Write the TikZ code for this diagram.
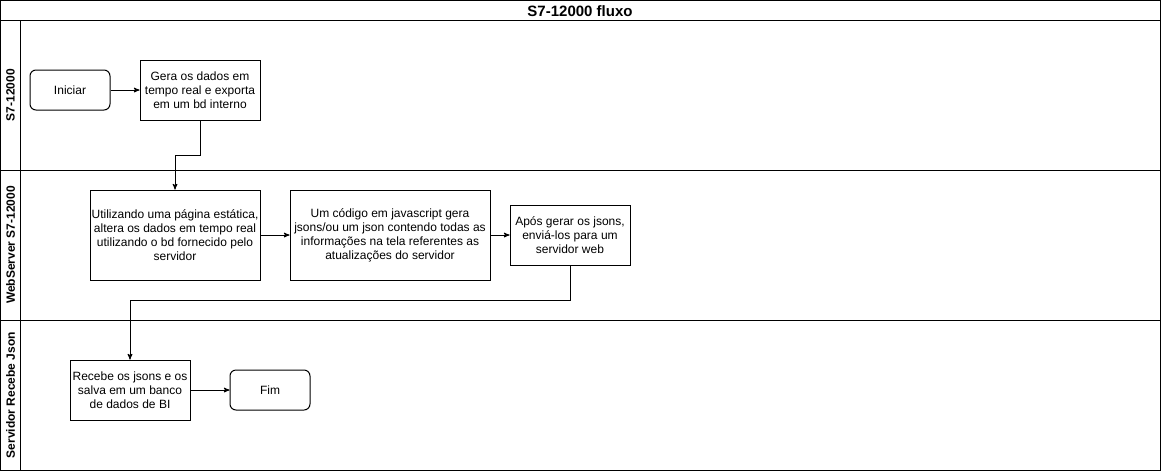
\documentclass[tikz,border=0pt]{standalone}
\usepackage{fontspec}
\setmainfont{Liberation Sans}
\usetikzlibrary{arrows}

\begin{document}
\begin{tikzpicture}[x=1pt,y=-1pt,->,>=stealth',line width=1pt,node distance=130pt,
  font=\fontsize{12}{14}\selectfont,
  lane/.style={-,draw},
  lane label/.style={rotate=90,font=\fontsize{12}{14}\selectfont\bfseries},
  main node/.style={rectangle,draw,fill=white,align=center,inner sep=1pt},
  end node/.style={rectangle,rounded corners=6pt,draw,fill=white,minimum width=80pt,minimum height=40pt}]
  \useasboundingbox (0,0) rectangle (1161,472);
  % pool and lanes
  \draw[lane] (0.5,0.5) rectangle (1160.5,470.5);
  \draw[lane] (0.5,20.5) -- (1160.5,20.5);
  \draw[lane] (0.5,170.5) -- (1160.5,170.5);
  \draw[lane] (0.5,320.5) -- (1160.5,320.5);
  \draw[lane] (20.5,20.5) -- (20.5,470.5);
  \node[font=\fontsize{15}{17}\selectfont\bfseries] (title) at (580,11) {S7-12000 fluxo};
  \node[lane label] (l1) at (10.5,95) {S7-12000};
  \node[lane label] (l2) at (10.5,245) {WebServer S7-12000};
  \node[lane label] (l3) at (10.5,395) {Servidor Recebe Json};
  % S7-12000
  \node[end node] (ini) at (70,90) {Iniciar};
  \node[main node,minimum width=120pt,minimum height=60pt] (gera) [right of=ini] {Gera os dados em\\tempo real e exporta\\em um bd interno};
  % WebServer
  \node[main node,minimum width=170pt,minimum height=90pt] (util) at (175,235) {Utilizando uma página estática,\\altera os dados em tempo real\\utilizando o bd fornecido pelo\\servidor};
  \node[main node,minimum width=200pt,minimum height=90pt] (codigo) [right of=util,node distance=215pt] {Um código em javascript gera\\jsons/ou um json contendo todas as\\informações na tela referentes as\\atualizações do servidor};
  \node[main node,minimum width=120pt,minimum height=60pt] (apos) [right of=codigo,node distance=180pt] {Após gerar os jsons,\\enviá-los para um\\servidor web};
  % Servidor
  \node[main node,minimum width=120pt,minimum height=60pt] (recebe) at (130,390) {Recebe os jsons e os\\salva em um banco\\de dados de BI};
  \node[end node] (fim) [right of=recebe,node distance=140pt] {Fim};
  \path (ini) edge (gera)
    (util) edge (codigo)
    (codigo) edge (apos)
    (recebe) edge (fim);
  \draw (gera.south) -- ++(0,35) -| (util.north);
  \draw (apos.south) -- ++(0,35) -| (recebe.north);
\end{tikzpicture}
\end{document}
